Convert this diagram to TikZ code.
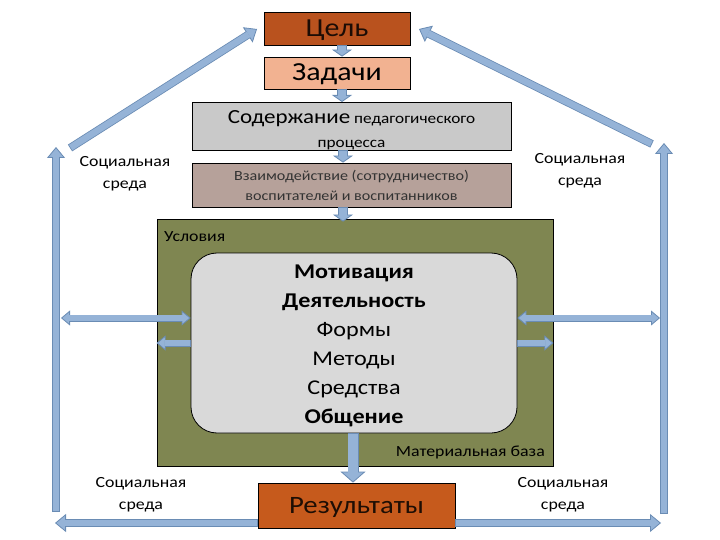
\documentclass[tikz,border=0pt]{standalone}
\usepackage{fontspec}
\setmainfont{Carlito}[FakeStretch=1.15]
\usetikzlibrary{arrows.meta,calc}
\definecolor{afill}{HTML}{95B3D7}
\definecolor{abord}{HTML}{6A8CB4}
\definecolor{celc}{HTML}{B9521E}
\definecolor{zadc}{HTML}{F2B291}
\definecolor{sodc}{HTML}{C9C9C9}
\definecolor{vzc}{HTML}{B6A19A}
\definecolor{grc}{HTML}{7F8651}
\definecolor{inc}{HTML}{D9D9D9}
\definecolor{resc}{HTML}{C65A1C}
\tikzset{
  box/.style={draw=black, line width=0.8pt, inner sep=0pt, align=center},
  capc/.style={text height=16pt, text depth=0pt},
  lbl/.style={inner sep=0pt, align=center, font=\fontsize{15.5}{22}\selectfont},
  bigout/.style={draw=abord, line width=8pt, -{Triangle[width=18pt,length=11pt,line width=0.8pt,fill=afill]}},
  bigin/.style={draw=afill, line width=6.4pt, shorten >=10pt, shorten <=0.8pt},
  bigdout/.style={draw=abord, line width=7pt, {Triangle[width=15pt,length=9pt,line width=0.8pt,fill=afill]}-{Triangle[width=15pt,length=9pt,line width=0.8pt,fill=afill]}},
  bigdin/.style={draw=afill, line width=5.4pt, shorten >=8pt, shorten <=8pt},
  smout/.style={draw=abord, line width=7pt, -{Triangle[width=15pt,length=9pt,line width=0.8pt,fill=afill]}},
  smin/.style={draw=afill, line width=5.4pt, shorten >=8pt, shorten <=0.8pt},
  medout/.style={draw=abord, line width=10pt, -{Triangle[width=20pt,length=7pt,line width=0.8pt,fill=afill]}},
  medin/.style={draw=afill, line width=8.4pt, shorten >=6pt, shorten <=0.8pt},
  dnout/.style={draw=abord, line width=11pt, -{Triangle[width=25pt,length=11pt,line width=0.8pt,fill=afill]}},
  dnin/.style={draw=afill, line width=9.4pt, shorten >=10pt, shorten <=0.8pt}
}
\newcommand\blockarr[3]{\draw[#1out] #2 -- #3; \draw[#1in] #2 -- #3;}
\begin{document}
\begin{tikzpicture}[x=1pt,y=-1pt]
\useasboundingbox (0,0) rectangle (720,540);
% boxes
\node[box, capc, fill=celc, minimum width=146pt, minimum height=33pt, font=\fontsize{26}{26}\selectfont, text=black!85!celc] (cel) at (337,28.5) {Цель};
\node[box, capc, fill=zadc, minimum width=146pt, minimum height=32pt, font=\fontsize{26}{26}\selectfont] (zad) at (337,73) {Задачи};
\node[box, fill=sodc, minimum width=319pt, minimum height=48pt] (sod) at (351.5,126) {};
\node[align=center, inner sep=0pt, font=\fontsize{15}{24}\selectfont] (sodt) at (351.5,130) {{\fontsize{20}{20}\selectfont Содержание} педагогического\\процесса};
\node[box, fill=vzc, minimum width=319pt, minimum height=44pt, font=\fontsize{14}{20}\selectfont, text=black!80] (vz) at (351.5,185) {Взаимодействие (сотрудничество)\\воспитателей и воспитанников};
\node[box, fill=grc, minimum width=396pt, minimum height=247pt] (gr) at (355,342.5) {};
\node[box, fill=inc, minimum width=326pt, minimum height=180pt, rounded corners=26pt] (inn) at (354,343) {};
\node[align=center, inner sep=0pt, font=\fontsize{21}{29}\selectfont] (lst) at (354,346) {\textbf{Мотивация}\\\textbf{Деятельность}\\Формы\\Методы\\Средства\\\textbf{Общение}};
\node[inner sep=0pt, anchor=west, font=\fontsize{15.5}{15.5}\selectfont] (usl) at (164,237) {Условия};
\node[inner sep=0pt, anchor=east, font=\fontsize{15.5}{15.5}\selectfont] (mat) at (545,452) {Материальная база};
\node[box, capc, fill=resc, minimum width=197pt, minimum height=45pt, font=\fontsize{25}{25}\selectfont, text=black!85!resc] (res) at (356.5,505.5) {Результаты};
% social labels
\node[lbl] (s1) at (125,174) {Социальная\\среда};
\node[lbl] (s2) at (580,171) {Социальная\\среда};
\node[lbl] (s3) at (141,495) {Социальная\\среда};
\node[lbl] (s4) at (563,495) {Социальная\\среда};
% free ends
\coordinate (l0) at (56,512);
\coordinate (l1) at (56,147);
\coordinate (d0) at (70,148);
\coordinate (d1) at (257,29);
\coordinate (r0) at (664,514);
\coordinate (r1) at (664,143);
\coordinate (e0) at (652,144);
\coordinate (e1) at (419,29);
\coordinate (bl) at (55,523);
\coordinate (br) at (661,523);
\coordinate (ml) at (61,318);
\coordinate (mr) at (660,318);
% top chain
\blockarr{med}{([xshift=5pt]cel.south)}{([xshift=5pt]zad.north)}
\blockarr{med}{([xshift=5pt]zad.south)}{([xshift=5pt,yshift=-0.4pt]zad.south |- sod.north)}
\blockarr{med}{([xshift=-8.5pt]sod.south)}{([xshift=-8.5pt]vz.north)}
\blockarr{med}{([xshift=-8.5pt]vz.south)}{([xshift=-8.5pt,yshift=-3pt]vz.south |- gr.north)}
\blockarr{dn}{([xshift=-1pt]inn.south)}{([xshift=-1pt]inn.south |- res.north)}
% outer frame
\blockarr{big}{(l0)}{(l1)}
\blockarr{big}{(d0)}{(d1)}
\blockarr{big}{(r0)}{(r1)}
\blockarr{big}{(e0)}{(e1)}
\blockarr{big}{(res.west |- bl)}{(bl)}
\blockarr{big}{(res.east |- br)}{(br)}
% side arrows
\blockarr{bigd}{(ml)}{(inn.west |- ml)}
\blockarr{bigd}{(inn.east |- mr)}{(mr)}
\blockarr{sm}{(inn.west)}{(gr.west |- inn.west)}
\blockarr{sm}{(inn.east)}{(gr.east |- inn.east)}
\end{tikzpicture}
\end{document}
